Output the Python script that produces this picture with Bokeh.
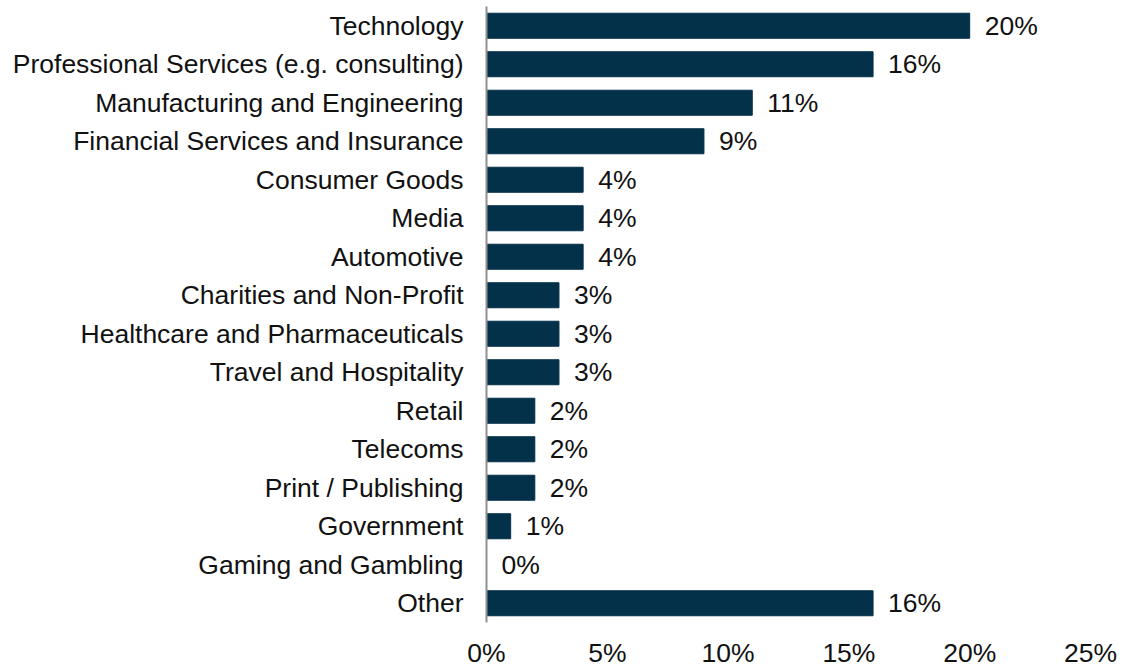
from bokeh.plotting import figure
from bokeh.models import ColumnDataSource, FactorRange, Range1d, FixedTicker
from bokeh.core.properties import value
from bokeh.embed import file_html
from bokeh.resources import INLINE

categories = [
    "Technology",
    "Professional Services (e.g. consulting)",
    "Manufacturing and Engineering",
    "Financial Services and Insurance",
    "Consumer Goods",
    "Media",
    "Automotive",
    "Charities and Non-Profit",
    "Healthcare and Pharmaceuticals",
    "Travel and Hospitality",
    "Retail",
    "Telecoms",
    "Print / Publishing",
    "Government",
    "Gaming and Gambling",
    "Other",
]
values = [20, 16, 11, 9, 4, 4, 4, 3, 3, 3, 2, 2, 2, 1, 0, 16]
x_ticks = [0, 5, 10, 15, 20, 25]
x_tick_labels = ["0%", "5%", "10%", "15%", "20%", "25%"]

FONT = "Liberation Sans"
BAR = "#04314a"
FS = "26.5px"

src = ColumnDataSource(dict(
    cat=categories,
    val=values,
    lab=[f"{v}%" for v in values],
))

p = figure(
    width=1120, height=670,
    y_range=FactorRange(factors=categories[::-1], range_padding=0),
    x_range=Range1d(0, 25),
    output_backend="svg", toolbar_location=None,
    min_border_left=486, min_border_right=30, min_border_top=6, min_border_bottom=40,
)
p.outline_line_color = None
p.xgrid.grid_line_color = None
p.ygrid.grid_line_color = None

p.hbar(y="cat", right="val", left=0, height=0.65, source=src,
       fill_color=BAR, line_color=BAR)

p.text(x="val", y="cat", text="lab", source=src, x_offset=15,
       text_baseline="middle", text_align="left",
       text_font=value(FONT), text_font_size=FS, text_color="#111111")

p.xaxis.ticker = FixedTicker(ticks=x_ticks)
p.xaxis.major_label_overrides = {t: l for t, l in zip(x_ticks, x_tick_labels)}
p.xaxis.axis_line_color = None
p.xaxis.major_tick_line_color = None
p.xaxis.minor_tick_line_color = None
p.xaxis.major_label_standoff = 9
p.xaxis.major_label_text_font = FONT
p.xaxis.major_label_text_font_size = FS
p.xaxis.major_label_text_color = "#111111"

p.yaxis.axis_line_color = "#8f8f8f"
p.yaxis.axis_line_width = 2
p.yaxis.major_tick_line_color = None
p.yaxis.minor_tick_line_color = None
p.yaxis.major_label_standoff = 17
p.yaxis.major_label_text_font = FONT
p.yaxis.major_label_text_font_size = FS
p.yaxis.major_label_text_color = "#111111"

open("out.html", "w").write(file_html(p, INLINE))
